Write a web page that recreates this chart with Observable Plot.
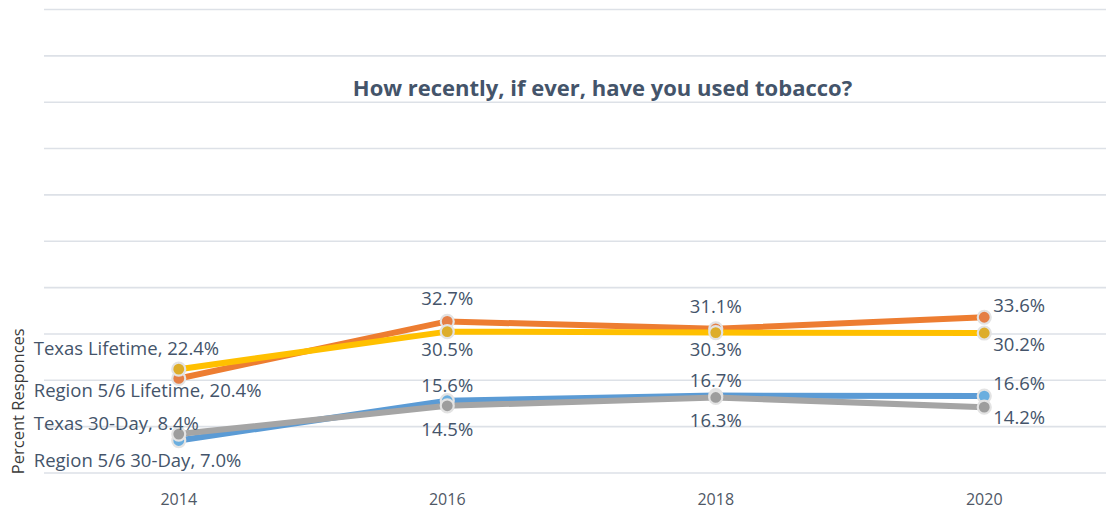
<!DOCTYPE html>
<html>
<head>
<meta charset="utf-8">
<script src="https://cdn.jsdelivr.net/npm/d3@7"></script>
<script src="https://cdn.jsdelivr.net/npm/@observablehq/plot@0.6"></script>
<style>
  html, body { margin: 0; padding: 0; background: #fff; }
  #chart { width: 1106px; height: 514px; overflow: hidden; }
  g[aria-label^="x-axis"] text { font-size: 16px; fill: #4f5866; }
</style>
</head>
<body>
<div id="chart"></div>
<script>
// ---- data ----
const title = "How recently, if ever, have you used tobacco?";
const yLabel = "Percent Responces";
const years = [2014, 2016, 2018, 2020];
const seriesNames = ["Region 5/6 Lifetime", "Texas Lifetime", "Region 5/6 30-Day", "Texas 30-Day"];
const region56Lifetime = [20.4, 32.7, 31.1, 33.6];
const texasLifetime = [22.4, 30.5, 30.3, 30.2];
const region5630Day = [7.0, 15.6, 16.7, 16.6];
const texas30Day = [8.4, 14.5, 16.3, 14.2];
const gridValues = [0, 10, 20, 30, 40, 50, 60, 70, 80, 90, 100];

// ---- styles ----
const lineColors = {
  "Region 5/6 Lifetime": "#ED7D31",
  "Texas Lifetime": "#FFC000",
  "Region 5/6 30-Day": "#5B9BD5",
  "Texas 30-Day": "#A5A5A5"
};
const dotColors = {
  "Region 5/6 Lifetime": "#E57F46",
  "Texas Lifetime": "#DDAD2A",
  "Region 5/6 30-Day": "#6AAEDF",
  "Texas 30-Day": "#9D9D9D"
};
const groupOf = {
  "Region 5/6 Lifetime": "Lifetime",
  "Texas Lifetime": "Lifetime",
  "Region 5/6 30-Day": "30-Day",
  "Texas 30-Day": "30-Day"
};
// label vertical offsets (px) by position in the chart, pair group and above/below
const firstOffsets = {Lifetime: {above: -20, below: 13}, "30-Day": {above: -10, below: 21}};
const middleOffsets = {Lifetime: {above: -22, below: 18}, "30-Day": {above: -15, below: 24}};
const lastOffsets = {Lifetime: {above: -11, below: 12}, "30-Day": {above: -12, below: 11}};
const textColor = "#44546A";

const seriesValues = [region56Lifetime, texasLifetime, region5630Day, texas30Day];
const rows = [];
seriesNames.forEach((s, si) => {
  years.forEach((yr, i) => rows.push({series: s, year: yr, value: seriesValues[si][i]}));
});
// whether a point is the upper of its pair at that year
rows.forEach(r => {
  const partner = rows.find(o => o.year === r.year && o.series !== r.series && groupOf[o.series] === groupOf[r.series]);
  r.above = r.value >= partner.value;
});
const fmt = v => v.toFixed(1) + "%";

const marks = [
  Plot.ruleY(gridValues, {stroke: "#DDE1E7", strokeWidth: 1.6})
];
seriesNames.forEach(s => {
  const d = rows.filter(r => r.series === s);
  marks.push(Plot.line(d, {x: "year", y: "value", stroke: lineColors[s], strokeWidth: 6, strokeLinejoin: "round"}));
});
seriesNames.forEach(s => {
  const d = rows.filter(r => r.series === s);
  marks.push(Plot.dot(d, {x: "year", y: "value", r: 6.5, fill: dotColors[s], stroke: "#E3E3E3", strokeWidth: 2.2}));
});

const labelStyle = {fill: textColor, fontSize: 18.5};
const lastYear = years[years.length - 1];
for (const g of ["Lifetime", "30-Day"]) {
  for (const pos of ["above", "below"]) {
    const sel = r => groupOf[r.series] === g && (pos === "above" ? r.above : !r.above);
    const first = rows.filter(r => r.year === years[0] && sel(r));
    const middle = rows.filter(r => r.year !== years[0] && r.year !== lastYear && sel(r));
    const last = rows.filter(r => r.year === lastYear && sel(r));
    marks.push(
      Plot.text(first, {x: "year", y: "value", text: r => `${r.series}, ${fmt(r.value)}`, textAnchor: "start", dx: -145, dy: firstOffsets[g][pos], ...labelStyle}),
      Plot.text(middle, {x: "year", y: "value", text: r => fmt(r.value), dy: middleOffsets[g][pos], ...labelStyle}),
      Plot.text(last, {x: "year", y: "value", text: r => fmt(r.value), textAnchor: "start", dx: 9, dy: lastOffsets[g][pos], ...labelStyle})
    );
  }
}

marks.push(
  Plot.text([title], {frameAnchor: "top", textAnchor: "middle", lineAnchor: "middle", dx: 27, dy: 79, fill: textColor, fontSize: 22, fontWeight: "bold"}),
  Plot.text([yLabel], {frameAnchor: "left", textAnchor: "middle", rotate: -90, dx: -26, dy: 160, fill: "#3a3a3a", fontSize: 16.5})
);

const chart = Plot.plot({
  width: 1106,
  height: 514,
  marginTop: 9,
  marginBottom: 41.5,
  marginLeft: 44,
  marginRight: 0,
  style: {fontFamily: "'Open Sans', sans-serif", fontSize: "16px", background: "#fff", color: textColor},
  x: {domain: [2013, 2021], range: [44, 1118], ticks: years, tickFormat: d => String(d), tickSize: 0, tickPadding: 21, label: null},
  y: {domain: [0, 100], axis: null},
  marks
});
document.getElementById("chart").appendChild(chart);
</script>
</body>
</html>
